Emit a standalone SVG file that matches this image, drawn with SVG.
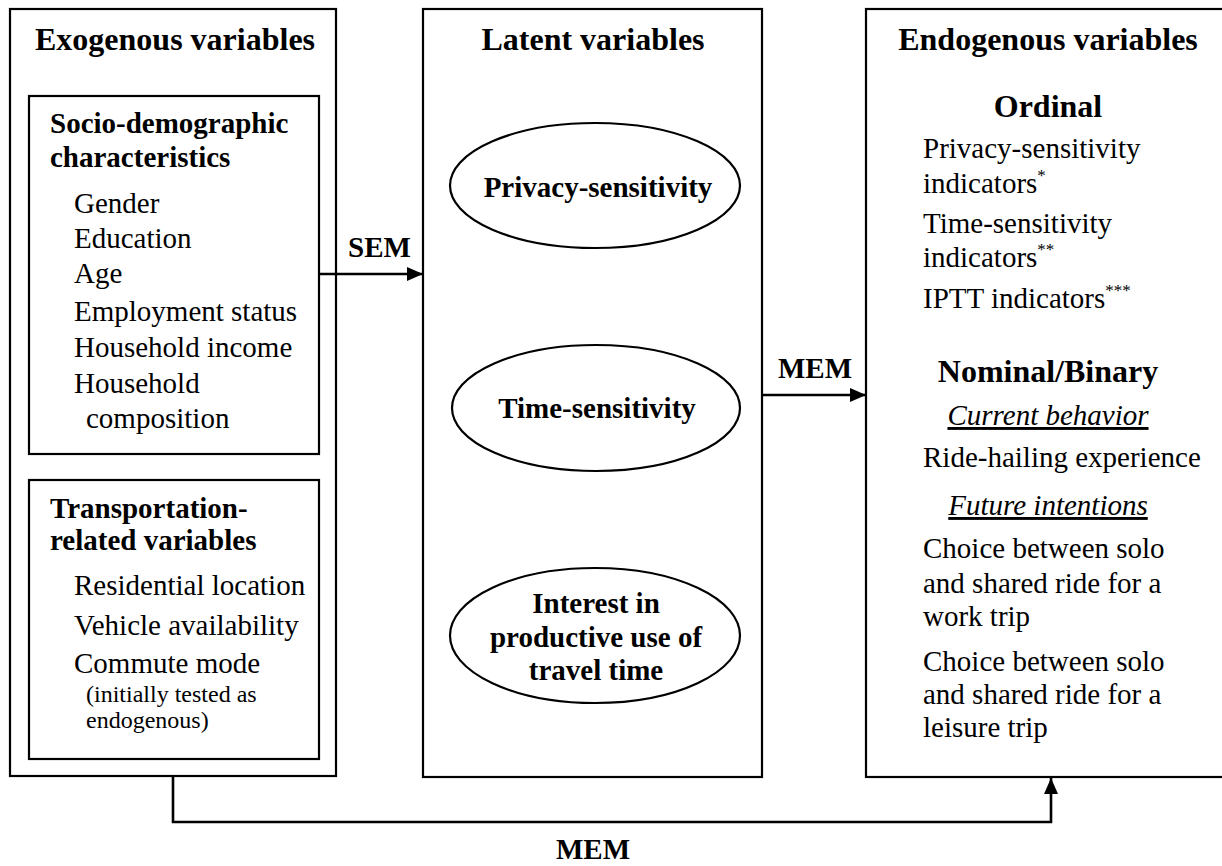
<svg xmlns="http://www.w3.org/2000/svg" width="1222" height="866" viewBox="0 0 1222 866">
  <style>
    .box { fill: #fff; stroke: #000; stroke-width: 2.2; }
    .oval { fill: #fff; stroke: #000; stroke-width: 2.2; }
    .link { fill: none; stroke: #000; stroke-width: 2.6; }
    text { font-family: "Liberation Serif", "Times New Roman", serif; fill: #000; }
    .title { font-size: 32px; font-weight: bold; }
    .head { font-size: 29px; font-weight: bold; }
    .item { font-size: 29px; }
    .note { font-size: 24px; }
    .sub { font-size: 29px; font-style: italic; text-decoration: underline; }
    .lbl { font-size: 29px; font-weight: bold; }
    .mid { text-anchor: middle; }
    .sup { font-size: 17px; }
  </style>
  <defs>
    <marker id="arrow" viewBox="0 0 16 14" refX="16" refY="7" markerWidth="16" markerHeight="14" markerUnits="userSpaceOnUse" orient="auto">
      <path d="M0,0 L16,7 L0,14 Z" fill="#000"/>
    </marker>
  </defs>

  <!-- Exogenous variables -->
  <g id="exogenous">
    <rect class="box" x="10" y="9" width="326" height="767"/>
    <text class="title" x="35" y="50">Exogenous variables</text>
  </g>

  <g id="socio-demographic">
    <rect class="box" x="29" y="96" width="290" height="358"/>
    <text class="head" x="50" y="133">Socio-demographic</text>
    <text class="head" x="50" y="167">characteristics</text>
    <text class="item" x="74" y="213">Gender</text>
    <text class="item" x="74" y="248">Education</text>
    <text class="item" x="74" y="283">Age</text>
    <text class="item" x="74" y="321">Employment status</text>
    <text class="item" x="74" y="357">Household income</text>
    <text class="item" x="74" y="393">Household</text>
    <text class="item" x="86" y="428">composition</text>
  </g>

  <g id="transportation">
    <rect class="box" x="29" y="480" width="290" height="279"/>
    <text class="head" x="50" y="518">Transportation-</text>
    <text class="head" x="50" y="550">related variables</text>
    <text class="item" x="74" y="595">Residential location</text>
    <text class="item" x="74" y="635">Vehicle availability</text>
    <text class="item" x="74" y="673">Commute mode</text>
    <text class="note" x="86" y="702">(initially tested as</text>
    <text class="note" x="86" y="728">endogenous)</text>
  </g>

  <!-- Latent variables -->
  <g id="latent">
    <rect class="box" x="423" y="9" width="339" height="768"/>
    <text class="title mid" x="593" y="50">Latent variables</text>
  </g>

  <g id="privacy-sensitivity">
    <ellipse class="oval" cx="595" cy="185.5" rx="145" ry="62.5"/>
    <text class="head mid" x="598" y="197">Privacy-sensitivity</text>
  </g>

  <g id="time-sensitivity">
    <ellipse class="oval" cx="596" cy="408" rx="144" ry="63"/>
    <text class="head mid" x="597" y="418">Time-sensitivity</text>
  </g>

  <g id="iptt">
    <ellipse class="oval" cx="595" cy="635.5" rx="145" ry="67.5"/>
    <text class="head mid" x="596" y="613">Interest in</text>
    <text class="head mid" x="596" y="647">productive use of</text>
    <text class="head mid" x="596" y="680">travel time</text>
  </g>

  <!-- Endogenous variables -->
  <g id="endogenous">
    <rect class="box" x="866" y="9" width="360" height="768"/>
    <text class="title mid" x="1048" y="50">Endogenous variables</text>
    <text class="title mid" x="1048" y="117">Ordinal</text>
    <text class="item" x="923" y="158">Privacy-sensitivity</text>
    <text class="item" x="923" y="193">indicators<tspan class="sup" dy="-12">*</tspan></text>
    <text class="item" x="923" y="233">Time-sensitivity</text>
    <text class="item" x="923" y="267">indicators<tspan class="sup" dy="-12">**</tspan></text>
    <text class="item" x="923" y="308">IPTT indicators<tspan class="sup" dy="-12">***</tspan></text>
    <text class="title mid" x="1048" y="382">Nominal/Binary</text>
    <text class="sub mid" x="1048" y="425">Current behavior</text>
    <text class="item" x="923" y="467">Ride-hailing experience</text>
    <text class="sub mid" x="1048" y="515">Future intentions</text>
    <text class="item" x="923" y="558">Choice between solo</text>
    <text class="item" x="923" y="593">and shared ride for a</text>
    <text class="item" x="923" y="626">work trip</text>
    <text class="item" x="923" y="671">Choice between solo</text>
    <text class="item" x="923" y="704">and shared ride for a</text>
    <text class="item" x="923" y="737">leisure trip</text>
  </g>

  <!-- Connectors -->
  <g id="connectors">
    <line class="link" x1="319" y1="274" x2="423" y2="274" marker-end="url(#arrow)"/>
    <text class="lbl" x="348" y="257">SEM</text>

    <line class="link" x1="762" y1="395" x2="866" y2="395" marker-end="url(#arrow)"/>
    <text class="lbl" x="778" y="378">MEM</text>

    <polyline class="link" points="173,776 173,822 1051,822 1051,778" marker-end="url(#arrow)"/>
    <text class="lbl mid" x="593" y="859">MEM</text>
  </g>
</svg>
